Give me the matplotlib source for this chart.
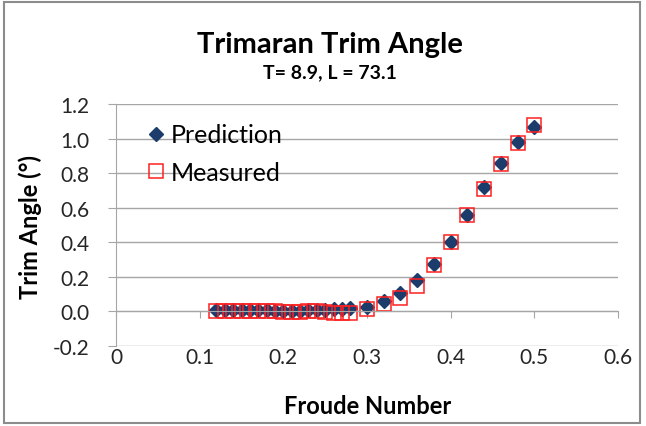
import matplotlib.pyplot as plt
from matplotlib.patches import Rectangle

plt.rcParams['font.family'] = ['Lato', 'DejaVu Sans']

# Froude number and trim angle (deg)
froude = [0.12, 0.13, 0.14, 0.15, 0.16, 0.17, 0.18, 0.19, 0.20, 0.21,
          0.22, 0.23, 0.24, 0.25, 0.26, 0.27, 0.28,
          0.30, 0.32, 0.34, 0.36, 0.38, 0.40, 0.42, 0.44, 0.46, 0.48, 0.50]
prediction = [0.010, 0.010, 0.010, 0.010, 0.010, 0.008, 0.006, 0.005, 0.004, 0.004,
              0.005, 0.006, 0.007, 0.008, 0.012, 0.016, 0.020,
              0.027, 0.060, 0.108, 0.179, 0.277, 0.400, 0.557, 0.719, 0.861, 0.978, 1.065]
measured = [0.000, 0.000, 0.000, 0.000, 0.000, 0.000, 0.000, 0.000, -0.002, -0.003,
            -0.002, 0.000, 0.000, -0.005, -0.010, -0.010, -0.010,
            0.015, 0.042, 0.079, 0.146, 0.270, 0.400, 0.557, 0.710, 0.852, 0.975, 1.078]

xticks = [0, 0.1, 0.2, 0.3, 0.4, 0.5, 0.6]
xlabels = ['0', '0.1', '0.2', '0.3', '0.4', '0.5', '0.6']
yticks = [-0.2, 0.0, 0.2, 0.4, 0.6, 0.8, 1.0, 1.2]

grey = '#a6a6a6'

fig = plt.figure(figsize=(6.46, 4.27), dpi=100)
ax = fig.add_axes([0.1796, 0.1874, 0.777, 0.5666])

ax.plot(froude, prediction, linestyle='none', marker='D', markersize=7,
        color='#1c3d6b', label='Prediction')
ax.plot(froude, measured, linestyle='none', marker='s', markersize=9.5,
        markerfacecolor='none', markeredgecolor='#ff2020', markeredgewidth=1.1,
        label='Measured')

ax.set_xlim(0, 0.6)
ax.set_ylim(-0.2, 1.2)
ax.set_yticks(yticks)
ax.set_yticklabels([f'{v:.1f}' for v in yticks])
ax.set_xticks(xticks)
ax.yaxis.grid(True, color=grey, linewidth=1)
ax.set_axisbelow(True)

# horizontal axis sits at zero, its labels go low
for s in ['top', 'right']:
    ax.spines[s].set_visible(False)
ax.spines['bottom'].set_position(('data', 0))
ax.spines['bottom'].set_color(grey)
ax.spines['left'].set_color(grey)
ax.tick_params(axis='x', direction='out', length=5, color=grey, labelbottom=False)
ax.tick_params(axis='y', direction='out', length=6, color=grey, labelsize=15,
               labelcolor='#262626', pad=13)

sec = ax.secondary_xaxis('bottom')
sec.set_xticks(xticks, xlabels)
sec.tick_params(length=0, labelsize=15, labelcolor='#262626', pad=1)
sec.spines['bottom'].set_visible(False)

fig.text(368 / 646, 1 - 407 / 427, 'Froude Number', ha='center', va='center',
         fontsize=17, fontweight='bold')
fig.text(30 / 646, 1 - 227 / 427, 'Trim Angle (°)', ha='center', va='center',
         rotation=90, fontsize=17, fontweight='bold')

fig.text(0.511, 0.895, 'Trimaran Trim Angle', ha='center', va='center',
         fontsize=21, fontweight='bold')
fig.text(0.511, 0.829, 'T= 8.9, L = 73.1', ha='center', va='center',
         fontsize=14, fontweight='bold')

ax.legend(loc='upper left', bbox_to_anchor=(0.06, 0.92), frameon=False,
          fontsize=18, labelspacing=0.58, handletextpad=0.2, handlelength=0.8,
          borderaxespad=0, borderpad=0)

fig.add_artist(Rectangle((0.006, 0.006), 0.985, 0.986, transform=fig.transFigure,
                         fill=False, edgecolor='#8c8c8c', linewidth=1.5))

fig.savefig('out.png', dpi=100)
